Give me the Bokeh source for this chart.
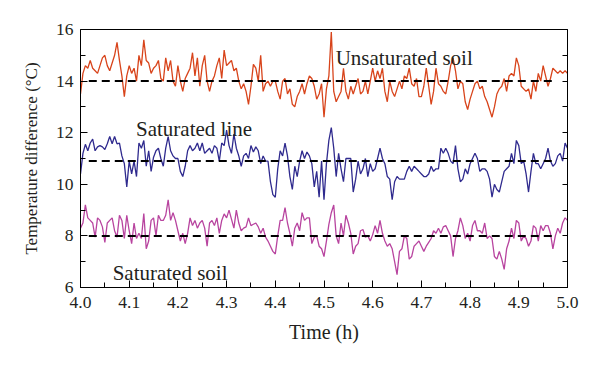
import numpy as np
from bokeh.plotting import figure
from bokeh.models import FixedTicker, LinearAxis, Range1d, CustomJSTickFormatter, Label
from bokeh.embed import file_html
from bokeh.resources import INLINE

# ---- data ----
time_h = np.round(np.linspace(4.0, 5.0, 201), 3)

unsaturated_soil = [
    13.5, 14.3, 14.6, 14.5, 14.8, 14.5, 14.4, 14.3, 14.6, 14.9,
    15.0, 14.6, 14.4, 14.7, 15.0, 15.5, 14.8, 14.2, 13.4, 14.2,
    14.6, 14.3, 14.5, 14.0, 15.0, 14.6, 15.6, 14.8, 14.7, 14.3,
    14.5, 14.6, 14.8, 14.1, 14.0, 14.9, 14.4, 14.8, 14.0, 13.8,
    14.6, 14.0, 13.6, 14.1, 14.3, 14.5, 15.1, 14.2, 14.9, 13.8,
    14.6, 15.0, 14.0, 13.6, 14.0, 14.2, 14.6, 14.9, 14.1, 15.2,
    14.6, 14.7, 14.8, 14.4, 14.5, 14.0, 13.7, 13.9, 13.6, 13.1,
    13.8, 14.65, 14.5, 14.0, 15.0, 13.6, 13.9, 14.0, 13.8, 14.0,
    14.0, 13.6, 13.3, 14.0, 14.1, 13.5, 13.7, 13.1, 13.0, 13.4,
    13.6, 13.9, 13.5, 13.9, 14.2, 14.1, 13.8, 13.3, 13.5, 13.9,
    12.6, 13.7, 14.2, 15.9, 13.6, 13.2, 13.4, 13.6, 14.5, 13.6,
    13.3, 13.8, 13.5, 13.8, 14.1, 13.5, 13.6, 14.0, 13.5, 14.0,
    14.5, 14.0, 14.4, 14.1, 14.5, 13.6, 13.2, 14.0, 13.6, 13.4,
    13.7, 14.0, 13.7, 14.2, 14.1, 14.5, 13.9, 13.8, 14.1, 13.4,
    13.4, 13.8, 14.5, 13.8, 13.1, 13.6, 14.5, 13.9, 13.8, 13.6,
    13.5, 14.0, 14.6, 14.9, 14.4, 13.7, 14.0, 13.9, 13.2, 12.9,
    13.3, 13.6, 13.9, 14.0, 13.7, 13.8, 13.4, 13.2, 12.9, 12.6,
    13.0, 13.5, 13.7, 13.8, 14.1, 13.6, 14.2, 14.3, 14.2, 14.9,
    14.6, 13.8, 13.7, 13.6, 13.7, 13.3, 14.0, 13.6, 14.3, 14.0,
    14.6, 14.2, 13.8, 14.1, 14.5, 14.4, 14.3, 14.4, 14.3, 14.4,
    14.3]

saturated_line = [
    10.4, 11.2, 11.55, 11.3, 11.6, 11.75, 11.3, 11.45, 11.5, 11.45,
    11.35, 11.57, 11.85, 11.57, 11.85, 11.57, 11.6, 11.1, 10.8, 9.9,
    10.9, 10.4, 10.9, 10.3, 11.6, 11.4, 11.7, 10.7, 11.3, 10.5,
    11.05, 11.3, 11.4, 11.0, 10.7, 11.4, 11.85, 11.3, 11.1, 11.0,
    11.0, 10.5, 10.3, 10.7, 11.3, 11.5, 11.3, 11.4, 11.6, 11.3,
    11.6, 11.2, 11.3, 11.4, 11.2, 11.5, 11.4, 10.9, 11.6, 11.5,
    12.1, 11.5, 11.2, 11.95, 11.4, 11.1, 10.7, 11.1, 11.2, 11.0,
    11.5, 11.25, 11.45, 11.3, 10.8, 11.1, 10.9, 10.9, 10.1, 9.6,
    9.5, 10.6, 11.3, 11.1, 11.6, 11.1, 10.3, 9.8, 10.7, 10.3,
    10.9, 11.3, 11.0, 11.25, 11.1, 10.8, 9.9, 10.5, 9.5, 10.9,
    9.4, 10.8, 11.7, 12.2, 11.4, 10.3, 11.2, 10.6, 10.1, 11.0,
    11.0, 11.0, 9.7, 10.2, 10.9, 10.4, 10.6, 11.0, 10.3, 10.8,
    10.5, 10.6, 11.0, 11.4, 11.0, 10.8, 10.3, 10.2, 9.4, 10.1,
    10.3, 10.2, 10.2, 10.2, 10.5, 10.7, 10.5, 10.7, 10.6, 10.5,
    10.4, 10.3, 10.3, 10.4, 10.7, 10.5, 10.6, 10.6, 11.4, 11.2,
    11.4, 11.2, 10.9, 10.8, 11.5, 10.6, 10.1, 10.2, 10.6, 10.4,
    10.8, 11.0, 11.2, 11.0, 10.5, 10.6, 10.6, 10.5, 10.2, 9.5,
    10.0, 9.8, 9.7, 10.1, 10.5, 10.6, 10.7, 11.2, 10.8, 11.7,
    11.5, 10.8, 10.9, 10.4, 9.7, 10.5, 11.2, 10.8, 10.8, 10.6,
    10.8, 11.0, 11.4, 10.9, 10.7, 10.8, 11.1, 11.2, 10.9, 11.6,
    11.4]

saturated_soil = [
    8.3, 8.5, 9.2, 8.7, 8.6, 8.5, 7.95, 8.7, 8.6, 8.35,
    7.75, 8.5, 8.6, 8.7, 8.2, 7.95, 8.8, 8.6, 7.9, 8.8,
    8.2, 7.7, 8.5, 7.9, 8.1, 7.9, 8.87, 7.5, 7.8, 8.6,
    8.7, 8.0, 8.8, 8.6, 8.6, 8.8, 9.4, 8.6, 8.9, 8.6,
    8.2, 7.8, 8.1, 7.7, 8.1, 8.7, 8.4, 8.6, 8.3, 8.5,
    8.6, 8.3, 7.6, 8.5, 8.6, 8.4, 8.7, 8.1, 8.6, 8.85,
    8.7, 9.0, 8.65, 8.3, 9.0, 8.5, 8.2, 8.3, 8.35, 8.7,
    8.4, 8.45, 8.5, 8.35, 8.1, 8.3, 7.95, 7.8, 7.6, 7.4,
    7.3, 8.0, 8.6, 8.6, 9.1, 8.5, 8.1, 7.6, 8.3, 8.5,
    8.2, 8.9, 8.6, 8.7, 8.7, 7.7, 7.95, 8.0, 7.6, 7.5,
    7.2, 7.8, 8.45, 8.9, 9.2, 8.0, 7.7, 8.5, 8.0, 8.8,
    8.5, 8.1, 7.3, 7.6, 7.7, 8.2, 8.25, 7.95, 8.0, 7.8,
    8.05, 8.4, 8.1, 8.6, 8.1, 7.8, 7.6, 7.7, 7.5, 7.0,
    6.5, 7.4, 7.5, 8.0, 7.9, 7.1, 7.2, 7.6, 7.7, 7.8,
    7.6, 7.4, 7.6, 7.75, 7.9, 8.2, 8.1, 8.3, 8.1, 8.35,
    8.4, 8.2, 8.0, 7.2, 7.9, 8.2, 8.7, 8.4, 7.9, 8.1,
    7.8, 8.4, 8.6, 8.2, 8.2, 8.1, 8.5, 7.9, 8.0, 7.9,
    7.2, 7.1, 7.4, 7.1, 6.7, 7.5, 7.8, 8.3, 7.9, 8.6,
    8.5, 7.8, 8.0, 7.9, 7.6, 7.8, 8.4, 8.3, 7.8, 8.4,
    8.2, 8.4, 8.4, 8.1, 7.5, 8.0, 8.3, 8.1, 8.5, 8.7,
    8.6]

mean_levels = [14.0, 10.9, 8.0]
mean_span = [4.017, 4.968]

series_names = ["Unsaturated soil", "Saturated line", "Saturated soil"]
series_colors = ["#d8441b", "#2f2a8e", "#b8449f"]

x_ticks = [4.0, 4.1, 4.2, 4.3, 4.4, 4.5, 4.6, 4.7, 4.8, 4.9, 5.0]
x_minor = [4.05, 4.15, 4.25, 4.35, 4.45, 4.55, 4.65, 4.75, 4.85, 4.95]
y_ticks = [6, 8, 10, 12, 14, 16]
y_minor = [7, 9, 11, 13, 15]

# ---- figure ----
FONT = "Liberation Serif"
TXT = "#231f20"

p = figure(width=592, height=358, output_backend="svg", toolbar_location=None,
           x_range=Range1d(4.0, 5.0), y_range=Range1d(6, 16),
           min_border_left=80, min_border_right=25, min_border_top=29, min_border_bottom=71)
p.grid.visible = False
p.outline_line_color = "black"
p.outline_line_width = 1
p.background_fill_color = "white"
p.border_fill_color = "white"

for vals, col in zip([unsaturated_soil, saturated_line, saturated_soil], series_colors):
    p.line(time_h, vals, line_color=col, line_width=1.3)

p.segment(x0=[mean_span[0]] * 3, x1=[mean_span[1]] * 3, y0=mean_levels, y1=mean_levels,
          line_color="black", line_width=2, line_dash="8 5")

# axes styling
xa = p.xaxis[0]
xa.ticker = FixedTicker(ticks=x_ticks, minor_ticks=x_minor)
xa.formatter = CustomJSTickFormatter(code="return tick.toFixed(1);")
ya = p.yaxis[0]
ya.ticker = FixedTicker(ticks=y_ticks, minor_ticks=y_minor)
for ax in (xa, ya):
    ax.major_tick_in = 7
    ax.major_tick_out = 0
    ax.minor_tick_in = 5
    ax.minor_tick_out = 0
    ax.axis_line_color = "black"
    ax.major_tick_line_color = "black"
    ax.minor_tick_line_color = "black"
    ax.major_label_text_font = FONT
    ax.major_label_text_font_size = "17.5px"
    ax.major_label_text_color = TXT
    ax.axis_label_text_font = FONT
    ax.axis_label_text_font_style = "normal"
    ax.axis_label_text_color = TXT
xa.axis_label = "Time (h)"
ya.axis_label = "Temperature difference (\u00b0C)"
xa.axis_label_text_font_size = "20px"
ya.axis_label_text_font_size = "17px"
xa.major_label_standoff = 9
ya.major_label_standoff = 7
xa.axis_label_standoff = 10
ya.axis_label_standoff = 12

ra = LinearAxis(ticker=FixedTicker(ticks=[6, 7, 8, 9, 10, 11, 12, 13, 14, 15, 16]),
                formatter=CustomJSTickFormatter(code="return '';"))
ra.major_tick_in = 5
ra.major_tick_out = 0
ra.minor_tick_line_color = None
ra.axis_line_color = "black"
p.add_layout(ra, "right")

# series labels
label_pos = [(4.524, 14.9), (4.114, 12.15), (4.066, 6.55)]
for name, (lx, ly) in zip(series_names, label_pos):
    p.add_layout(Label(x=lx, y=ly, text=name, text_font=FONT, text_font_size="21px",
                       text_color=TXT, text_baseline="alphabetic"))

open("out.html", "w").write(file_html(p, INLINE))
